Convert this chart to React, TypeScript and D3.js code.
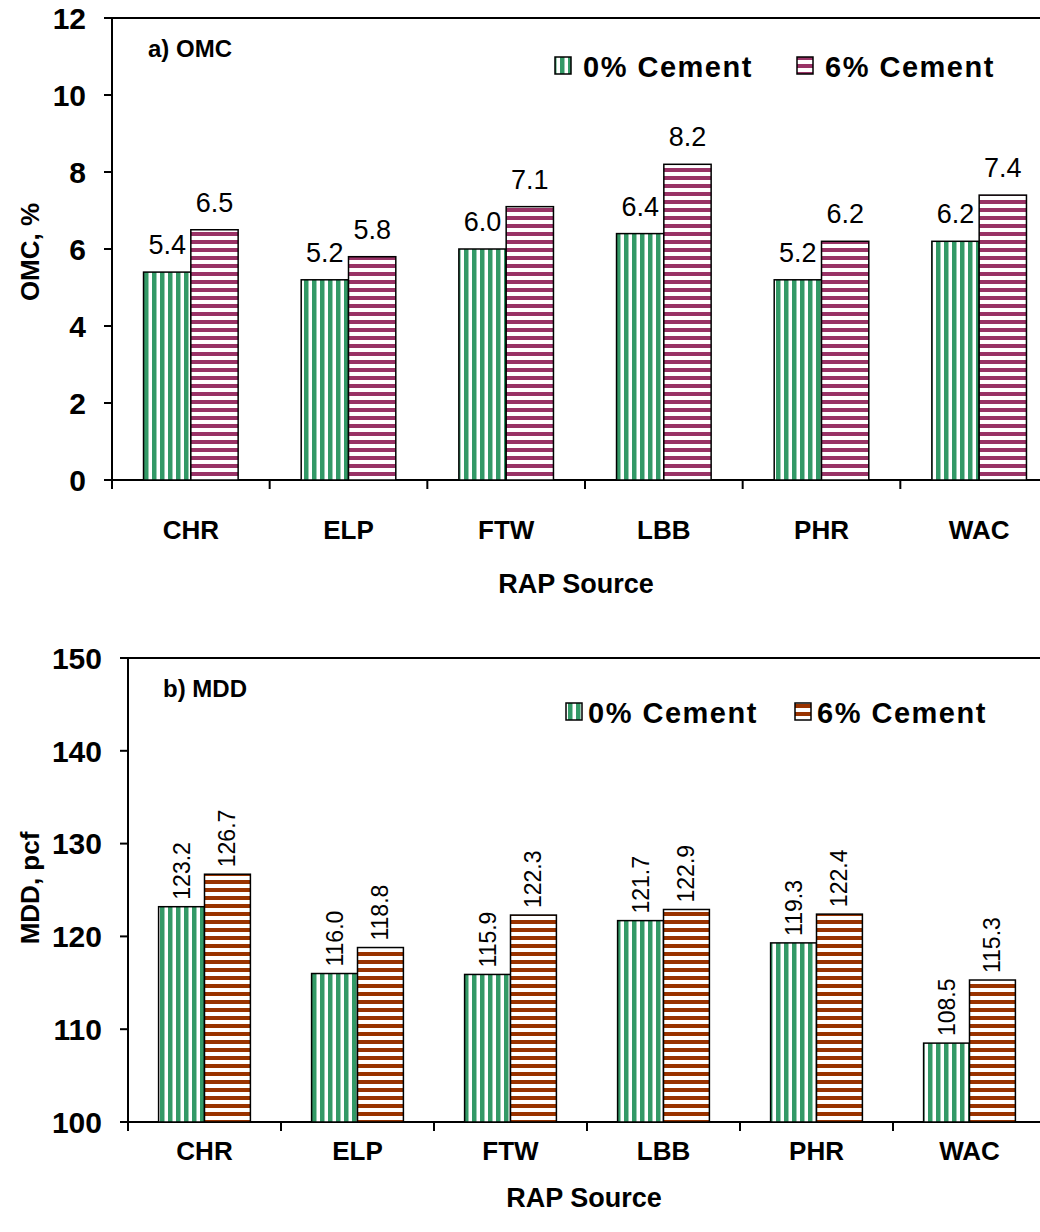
import React from "react";
import * as d3 from "d3";

const categories = ["CHR", "ELP", "FTW", "LBB", "PHR", "WAC"];
const series = ["0% Cement", "6% Cement"];
const omc0 = [5.4, 5.2, 6.0, 6.4, 5.2, 6.2];
const omc6 = [6.5, 5.8, 7.1, 8.2, 6.2, 7.4];
const mdd0 = [123.2, 116.0, 115.9, 121.7, 119.3, 108.5];
const mdd6 = [126.7, 118.8, 122.3, 122.9, 122.4, 115.3];
const omcTicks = [0, 2, 4, 6, 8, 10, 12];
const mddTicks = [100, 110, 120, 130, 140, 150];

const FONT = "'Liberation Sans', Arial, sans-serif";

type PanelProps = {
  x0: number; x1: number; yTop: number; yBot: number;
  domain: [number, number]; ticks: number[];
  v0: number[]; v6: number[];
  pat6: string; fmt: (v: number) => string;
  rotateLabels: boolean; yTitle: string; yTitleY: number;
  panelLabel: string; panelX: number; panelY: number;
  legendY: number; legSw: number[]; legTx: number[];
  catDy: number; titleDy: number;
};

function Panel(p: PanelProps) {
  const x = d3.scaleBand<string>().domain(categories).range([p.x0, p.x1]).paddingInner(0.4).paddingOuter(0.2);
  const xs = d3.scaleBand<string>().domain(series).range([0, x.bandwidth()]);
  const y = d3.scaleLinear().domain(p.domain).range([p.yBot, p.yTop]);
  const step = x.step();
  const vals = [p.v0, p.v6];
  const pats = ["url(#pGreen)", p.pat6];
  const catMid = (c: string) => (x(c) as number) + x.bandwidth() / 2;
  return (
    <g fontFamily={FONT}>
      <line x1={p.x0} x2={1100} y1={p.yTop} y2={p.yTop} stroke="#000" strokeWidth={2} />
      <line x1={p.x0} x2={p.x0} y1={p.yTop} y2={p.yBot} stroke="#000" strokeWidth={2} />
      <line x1={p.x0} x2={1100} y1={p.yBot} y2={p.yBot} stroke="#000" strokeWidth={2} />
      {p.ticks.map((t) => (
        <g key={t}>
          <line x1={p.x0 - 8} x2={p.x0} y1={y(t)} y2={y(t)} stroke="#000" strokeWidth={2} />
          <text x={p.x0 - 26} y={y(t)} dy="0.36em" textAnchor="end" fontSize={30} fontWeight="bold">{t}</text>
        </g>
      ))}
      {d3.range(categories.length + 1).map((i) => (
        <line key={i} x1={p.x0 + i * step} x2={p.x0 + i * step} y1={p.yBot} y2={p.yBot + 9} stroke="#000" strokeWidth={2} />
      ))}
      {categories.map((c, ci) =>
        series.map((s, si) => {
          const v = vals[si][ci];
          const bx = (x(c) as number) + (xs(s) as number);
          const bw = xs.bandwidth();
          const top = y(v);
          const cx = bx + bw / 2;
          return (
            <g key={c + s}>
              <rect x={bx} y={top} width={bw} height={p.yBot - top} fill={pats[si]} stroke="#000" strokeWidth={1.5} />
              {p.rotateLabels ? (
                <text transform={`translate(${cx + 8},${top - 7}) rotate(-90)`} fontSize={23}>{p.fmt(v)}</text>
              ) : (
                <text x={cx} y={top - 18} textAnchor="middle" fontSize={27}>{p.fmt(v)}</text>
              )}
            </g>
          );
        })
      )}
      {categories.map((c) => (
        <text key={c} x={catMid(c)} y={p.yBot + p.catDy} textAnchor="middle" fontSize={26} fontWeight="bold">{c}</text>
      ))}
      <text x={(p.x0 + 1040) / 2} y={p.yBot + p.titleDy} textAnchor="middle" fontSize={27} fontWeight="bold">RAP Source</text>
      <text transform={`translate(39,${p.yTitleY}) rotate(-90)`} textAnchor="middle" fontSize={26} fontWeight="bold">{p.yTitle}</text>
      <text x={p.panelX} y={p.panelY} fontSize={24} fontWeight="bold">{p.panelLabel}</text>
      {series.map((s, si) => (
        <g key={s}>
          <rect x={p.legSw[si]} y={p.legendY - 20} width={16} height={17} fill={pats[si]} stroke="#000" strokeWidth={1.5} />
          <text x={p.legTx[si]} y={p.legendY} fontSize={29} fontWeight="bold" letterSpacing={1.5}>{s}</text>
        </g>
      ))}
    </g>
  );
}

export default function App() {
  return (
    <svg width={1040} height={1232} style={{ position: "absolute", left: 0, top: 0, background: "#fff" }}>
      <defs>
        <pattern id="pGreen" patternUnits="userSpaceOnUse" width={8} height={8}>
          <rect width={8} height={8} fill="#fff" />
          <rect x={0} width={4.5} height={8} fill="#339966" />
        </pattern>
        <pattern id="pMag" patternUnits="userSpaceOnUse" width={8} height={8}>
          <rect width={8} height={8} fill="#fff" />
          <rect y={0} width={8} height={4} fill="#993366" />
        </pattern>
        <pattern id="pBrown" patternUnits="userSpaceOnUse" width={8} height={8}>
          <rect width={8} height={8} fill="#fff" />
          <rect y={0} width={8} height={4} fill="#993300" />
        </pattern>
      </defs>
      <rect width={1040} height={1232} fill="#fff" />
      <Panel x0={112} x1={1058} yTop={18} yBot={480} domain={[0, 12]} ticks={omcTicks}
        v0={omc0} v6={omc6} pat6="url(#pMag)" fmt={(v) => v.toFixed(1)} rotateLabels={false}
        yTitle="OMC, %" yTitleY={252} panelLabel="a) OMC" panelX={148} panelY={57}
        legendY={77} legSw={[555, 797]} legTx={[583, 825]} catDy={59} titleDy={113} />
      <Panel x0={128} x1={1046} yTop={658} yBot={1122} domain={[100, 150]} ticks={mddTicks}
        v0={mdd0} v6={mdd6} pat6="url(#pBrown)" fmt={(v) => v.toFixed(1)} rotateLabels={true}
        yTitle="MDD, pcf" yTitleY={888} panelLabel="b) MDD" panelX={163} panelY={697}
        legendY={723} legSw={[566, 795]} legTx={[588, 817]} catDy={38} titleDy={85} />
    </svg>
  );
}
